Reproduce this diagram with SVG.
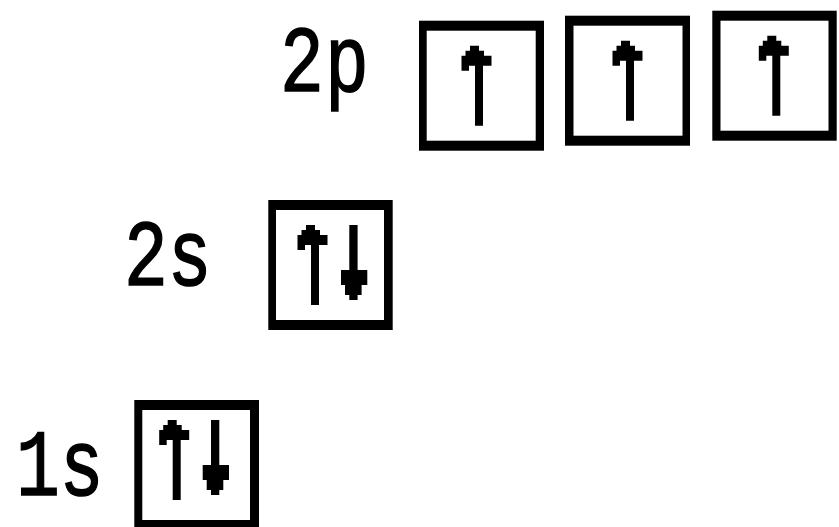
<svg xmlns="http://www.w3.org/2000/svg" width="839" height="527" viewBox="0 0 839 527">
  <style>
    .outer { fill: #000; }
    .inner { fill: #fff; }
    .arr { fill: #000; }
    .lbl { font-family: "Liberation Mono", "DejaVu Sans Mono", monospace; font-size: 73px; fill: #000; stroke: #000; stroke-width: 1.2px; }
  </style>
  <defs>
    <path id="up" d="M -5 0 H 4 V 5 H 9 V 10 H 16.5 V 20 H 8 V 80 H 0 V 20 H -6 V 25 H -13.5 V 10 H -9.5 V 5 H -5 Z"/>
    <path id="down" d="M 0 0 H 8.3 V 45 H 18 V 60 H 12.3 V 70 H 8.3 V 75 H 0 V 70 H -4.3 V 60 H -8.3 V 45 H 0 Z"/>
  </defs>
  <rect width="839" height="527" fill="#fff"/>

  <g id="orbital-2p">
    <text class="lbl" transform="translate(0,90.7) scale(1,1.29)" x="280 325" y="0">2p</text>
    <g id="box-2p-1">
      <rect class="outer" x="419" y="20.7" width="125" height="130"/>
      <rect class="inner" x="426.7" y="30.7" width="109" height="110"/>
      <use href="#up" class="arr" x="475" y="45.7"/>
    </g>
    <g id="box-2p-2">
      <rect class="outer" x="565" y="15.7" width="125" height="130"/>
      <rect class="inner" x="573.5" y="25.7" width="109" height="110"/>
      <use href="#up" class="arr" x="626" y="40.7"/>
    </g>
    <g id="box-2p-3">
      <rect class="outer" x="712.3" y="10.7" width="124.4" height="130"/>
      <rect class="inner" x="720.5" y="20.7" width="108" height="110"/>
      <use href="#up" class="arr" x="772.3" y="35.7"/>
    </g>
  </g>

  <g id="orbital-2s">
    <text class="lbl" transform="translate(124,285) scale(1,1.29)">2s</text>
    <g id="box-2s">
      <rect class="outer" x="268.3" y="200" width="124.4" height="130"/>
      <rect class="inner" x="276" y="210" width="108" height="110"/>
      <use href="#up" class="arr" x="311" y="225"/>
      <use href="#down" class="arr" x="349.3" y="225"/>
    </g>
  </g>

  <g id="orbital-1s">
    <text class="lbl" transform="translate(16,495) scale(1,1.29)">1s</text>
    <g id="box-1s">
      <rect class="outer" x="134.3" y="400" width="124.7" height="127"/>
      <rect class="inner" x="142.3" y="410" width="107.7" height="110"/>
      <use href="#up" class="arr" x="172.7" y="420"/>
      <use href="#down" class="arr" x="211" y="420"/>
    </g>
  </g>

  <g id="connectors"/>
</svg>
